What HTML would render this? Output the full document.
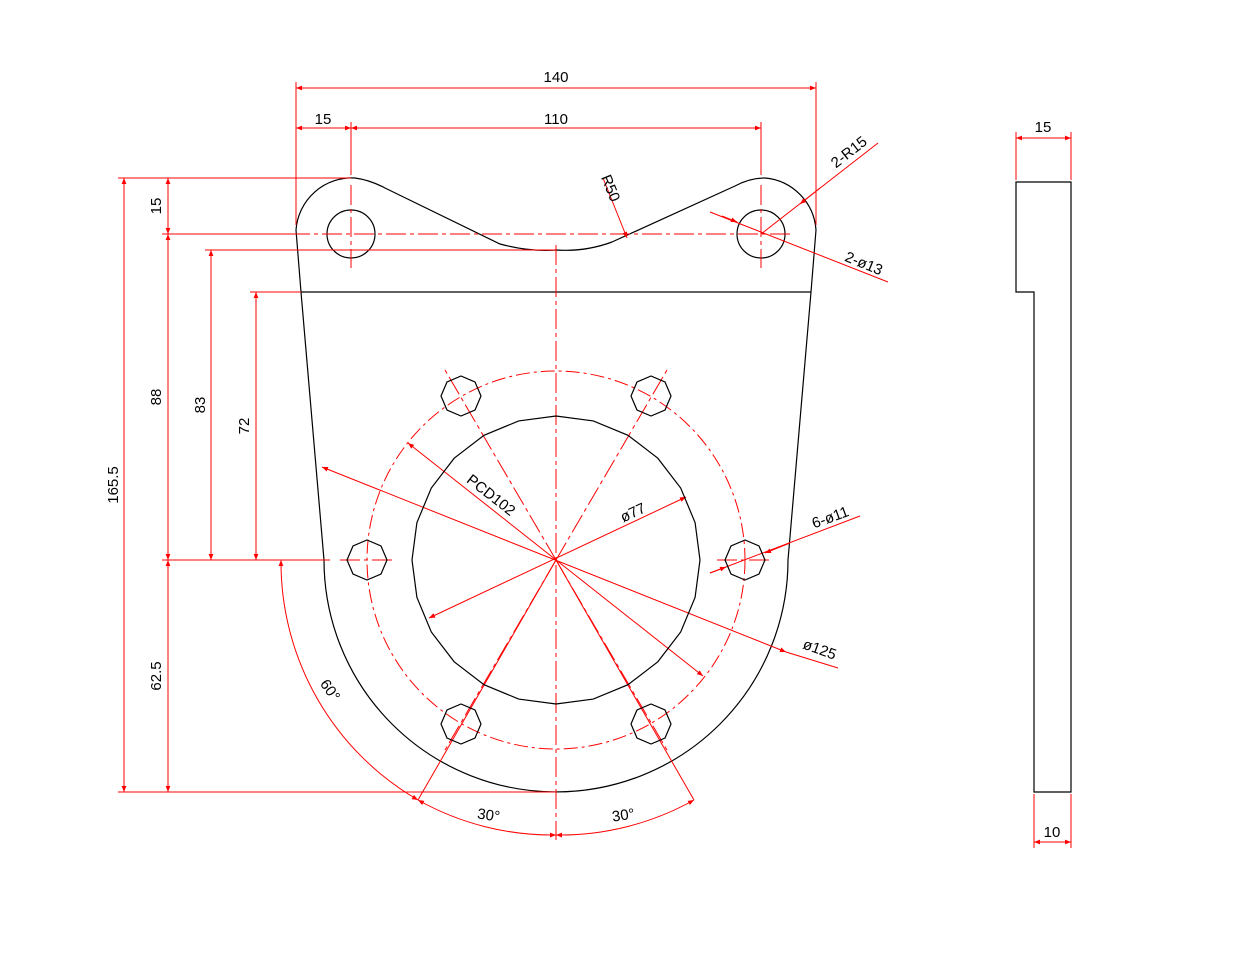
<!DOCTYPE html>
<html><head><style>html,body{margin:0;padding:0;background:#fff}svg{display:block}text{font-family:"Liberation Sans",sans-serif;font-size:15px;fill:#000}</style></head><body>
<svg width="1238" height="953" viewBox="0 0 1238 953" xmlns="http://www.w3.org/2000/svg">
<defs>
<marker id="a" viewBox="0 0 10 10" refX="10" refY="5" markerWidth="10" markerHeight="6" orient="auto-start-reverse" markerUnits="userSpaceOnUse"><path d="M0,1 L10,5 L0,9 z" fill="#f00"/></marker>
</defs>
<g fill="none" stroke="#000" stroke-width="1.2">
<path d="M296,230 A56,56 0 0 1 355,178 Q370,180 385,188 L500,244 Q530,252 556,250 Q585,252 612,242 L735,186 Q750,178 765,178 A56,56 0 0 1 816,230 L811,292 L788,560 A232,232 0 0 1 324,560 L301,292 Z"/>
<line x1="301" y1="292" x2="811" y2="292"/>
<circle cx="351" cy="234" r="24"/>
<circle cx="761" cy="234" r="24"/>
<path d="M1016,182 H1071 V792 H1034 V292 H1016 Z"/>
</g>
<g fill="none" stroke="#f00" stroke-width="1">
<circle cx="556" cy="560" r="189" stroke-dasharray="14,4,3,4"/>
<g stroke-dasharray="20,4,4,4">
<line x1="556" y1="245" x2="556" y2="840"/>
<line x1="290" y1="234" x2="790" y2="234"/>
<line x1="351" y1="185" x2="351" y2="268"/>
<line x1="761" y1="185" x2="761" y2="268"/>
<line x1="556" y1="560" x2="445" y2="370"/>
<line x1="556" y1="560" x2="667" y2="370"/>
<line x1="556" y1="560" x2="445" y2="750"/>
<line x1="556" y1="560" x2="667" y2="750"/>
<line x1="340" y1="560" x2="395" y2="560"/>
<line x1="717" y1="560" x2="772" y2="560"/>
</g>
<line x1="296" y1="82" x2="296" y2="225"/><line x1="816" y1="82" x2="816" y2="225"/>
<line x1="351" y1="122" x2="351" y2="175"/><line x1="761" y1="122" x2="761" y2="175"/>
<line x1="296" y1="88" x2="816" y2="88" marker-start="url(#a)" marker-end="url(#a)"/>
<line x1="296" y1="128" x2="351" y2="128" marker-start="url(#a)" marker-end="url(#a)"/>
<line x1="351" y1="128" x2="761" y2="128" marker-start="url(#a)" marker-end="url(#a)"/>
<line x1="118" y1="178" x2="351" y2="178"/><line x1="118" y1="792" x2="556" y2="792"/>
<line x1="162" y1="234" x2="296" y2="234"/><line x1="162" y1="560" x2="330" y2="560"/>
<line x1="205" y1="250" x2="556" y2="250"/><line x1="250" y1="292" x2="301" y2="292"/>
<line x1="124" y1="178" x2="124" y2="792" marker-start="url(#a)" marker-end="url(#a)"/>
<line x1="168" y1="178" x2="168" y2="234" marker-start="url(#a)" marker-end="url(#a)"/>
<line x1="168" y1="234" x2="168" y2="560" marker-start="url(#a)" marker-end="url(#a)"/>
<line x1="168" y1="560" x2="168" y2="792" marker-start="url(#a)" marker-end="url(#a)"/>
<line x1="211" y1="250" x2="211" y2="560" marker-start="url(#a)" marker-end="url(#a)"/>
<line x1="256" y1="292" x2="256" y2="560" marker-start="url(#a)" marker-end="url(#a)"/>
<line x1="322" y1="467" x2="786" y2="652" marker-start="url(#a)" marker-end="url(#a)"/>
<line x1="786" y1="652" x2="838" y2="668"/>
<line x1="408" y1="443" x2="703" y2="676" marker-start="url(#a)" marker-end="url(#a)"/>
<line x1="429" y1="618" x2="686" y2="497" marker-start="url(#a)" marker-end="url(#a)"/>
<line x1="603" y1="178" x2="627" y2="238" marker-end="url(#a)"/>
<line x1="878" y1="143" x2="761" y2="234"/>
<line x1="820" y1="188" x2="800" y2="204" marker-end="url(#a)"/>
<line x1="888" y1="282" x2="710" y2="212"/>
<line x1="722" y1="216" x2="737" y2="222" marker-end="url(#a)"/>
<line x1="860" y1="516" x2="710" y2="573"/>
<line x1="790" y1="543" x2="765" y2="553" marker-end="url(#a)"/>
<line x1="710" y1="573" x2="726" y2="567" marker-end="url(#a)"/>
<line x1="556" y1="560" x2="418" y2="800"/><line x1="556" y1="560" x2="694" y2="800"/>
<path d="M281,560 A275,275 0 0 0 418,800" marker-start="url(#a)" marker-end="url(#a)"/>
<path d="M418,800 A275,275 0 0 0 556,835" marker-start="url(#a)" marker-end="url(#a)"/>
<path d="M556,835 A275,275 0 0 0 694,800" marker-start="url(#a)" marker-end="url(#a)"/>
<line x1="1016" y1="132" x2="1016" y2="180"/><line x1="1071" y1="132" x2="1071" y2="180"/>
<line x1="1016" y1="138" x2="1071" y2="138" marker-start="url(#a)" marker-end="url(#a)"/>
<line x1="1034" y1="794" x2="1034" y2="848"/><line x1="1071" y1="794" x2="1071" y2="848"/>
<line x1="1034" y1="842" x2="1071" y2="842" marker-start="url(#a)" marker-end="url(#a)"/>
</g>
<g>
<text x="556" y="82" text-anchor="middle">140</text>
<text x="323" y="124" text-anchor="middle">15</text>
<text x="556" y="124" text-anchor="middle">110</text>
<text x="1043" y="132" text-anchor="middle">15</text>
<text x="1052" y="837" text-anchor="middle">10</text>
<text transform="translate(118,485) rotate(-90)" text-anchor="middle">165.5</text>
<text transform="translate(161,206) rotate(-90)" text-anchor="middle">15</text>
<text transform="translate(161,397) rotate(-90)" text-anchor="middle">88</text>
<text transform="translate(161,676) rotate(-90)" text-anchor="middle">62.5</text>
<text transform="translate(205,405) rotate(-90)" text-anchor="middle">83</text>
<text transform="translate(249,426) rotate(-90)" text-anchor="middle">72</text>
<text transform="translate(606,190) rotate(68)" text-anchor="middle">R50</text>
<text transform="translate(852,156) rotate(-38)" text-anchor="middle">2-R15</text>
<text transform="translate(862,268) rotate(22)" text-anchor="middle">2-ø13</text>
<text transform="translate(832,522) rotate(-20)" text-anchor="middle">6-ø11</text>
<text transform="translate(818,654) rotate(20)" text-anchor="middle">ø125</text>
<text transform="translate(488,499) rotate(38)" text-anchor="middle">PCD102</text>
<text transform="translate(635,517) rotate(-25)" text-anchor="middle">ø77</text>
<text transform="translate(326,693) rotate(55)" text-anchor="middle">60°</text>
<text transform="translate(488,820) rotate(8)" text-anchor="middle">30°</text>
<text transform="translate(624,820) rotate(-8)" text-anchor="middle">30°</text>
</g>
<g fill="none" stroke="#000" stroke-width="1.2">
<polygon points="700,560 695.1,597.3 680.7,632 657.8,661.8 628,684.7 593.3,699.1 556,704 518.7,699.1 484,684.7 454.2,661.8 431.3,632 416.9,597.3 412,560 416.9,522.7 431.3,488 454.2,458.2 484,435.3 518.7,420.9 556,416 593.3,420.9 628,435.3 657.8,458.2 680.7,488 695.1,522.7"/>
<polygon points="387,560 381,574 367,580 353,574 347,560 353,546 367,540 381,546"/>
<polygon points="765,560 759,574 745,580 731,574 725,560 731,546 745,540 759,546"/>
<polygon points="481,396 475,410 461,416 447,410 441,396 447,382 461,376 475,382"/>
<polygon points="671,396 665,410 651,416 637,410 631,396 637,382 651,376 665,382"/>
<polygon points="481,724 475,738 461,744 447,738 441,724 447,710 461,704 475,710"/>
<polygon points="671,724 665,738 651,744 637,738 631,724 637,710 651,704 665,710"/>
</g>
</svg>
</body></html>
